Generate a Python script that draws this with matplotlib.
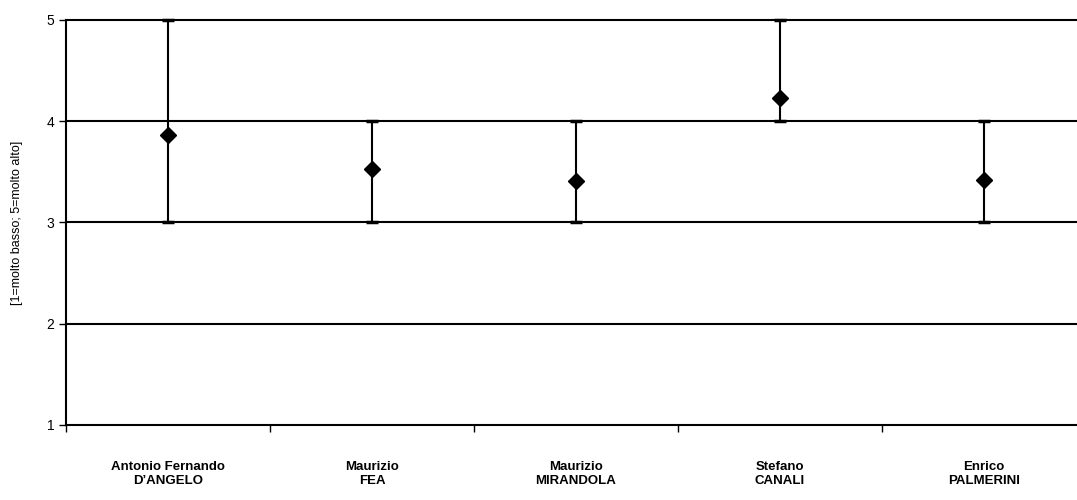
import matplotlib.pyplot as plt
import numpy as np

plt.rcParams['font.family'] = ['Liberation Sans', 'DejaVu Sans']

# Dati
nomi = ['Antonio Fernando\nD\u2019ANGELO', 'Maurizio\nFEA', 'Maurizio\nMIRANDOLA',
        'Stefano\nCANALI', 'Enrico\nPALMERINI']
media = [3.86, 3.53, 3.41, 4.23, 3.42]
minimo = [3, 3, 3, 4, 3]
massimo = [5, 4, 4, 5, 4]

fig = plt.figure(figsize=(10.77, 5.0), dpi=100)
ax = fig.add_axes([0.0613, 0.15, 0.947, 0.81])

x = np.arange(len(nomi)) + 0.5
media = np.array(media)
err = [media - np.array(minimo), np.array(massimo) - media]

# Griglia orizzontale
for y in [1, 2, 3, 4, 5]:
    ax.axhline(y, color='black', lw=1.5, zorder=1, clip_on=False)

_, caps, barre = ax.errorbar(x, media, yerr=err, fmt='D', color='black', ecolor='black',
                             elinewidth=1.5, capsize=4, capthick=2.5, markersize=8, zorder=3)
for c in caps:
    c.set_clip_on(False)
for b in barre:
    b.set_clip_on(False)

ax.set_xlim(0, 5)
ax.set_ylim(1, 5)
ax.set_yticks([1, 2, 3, 4, 5])
ax.tick_params(axis='y', direction='out', length=5, width=1, labelsize=10)

ax.set_xticks(np.arange(0, 6))
ax.set_xticklabels([])
ax.tick_params(axis='x', which='major', direction='out', length=5, width=1)
ax.set_xticks(x, minor=True)
ax.set_xticklabels(nomi, minor=True, fontweight='bold', fontsize=9.5)
ax.tick_params(axis='x', which='minor', length=0, pad=26)

for s in ['top', 'right', 'bottom']:
    ax.spines[s].set_visible(False)
ax.spines['left'].set_linewidth(1.5)

ax.set_ylabel('[1=molto basso; 5=molto alto]', fontsize=9, labelpad=17)

fig.savefig('out.png', dpi=100)
